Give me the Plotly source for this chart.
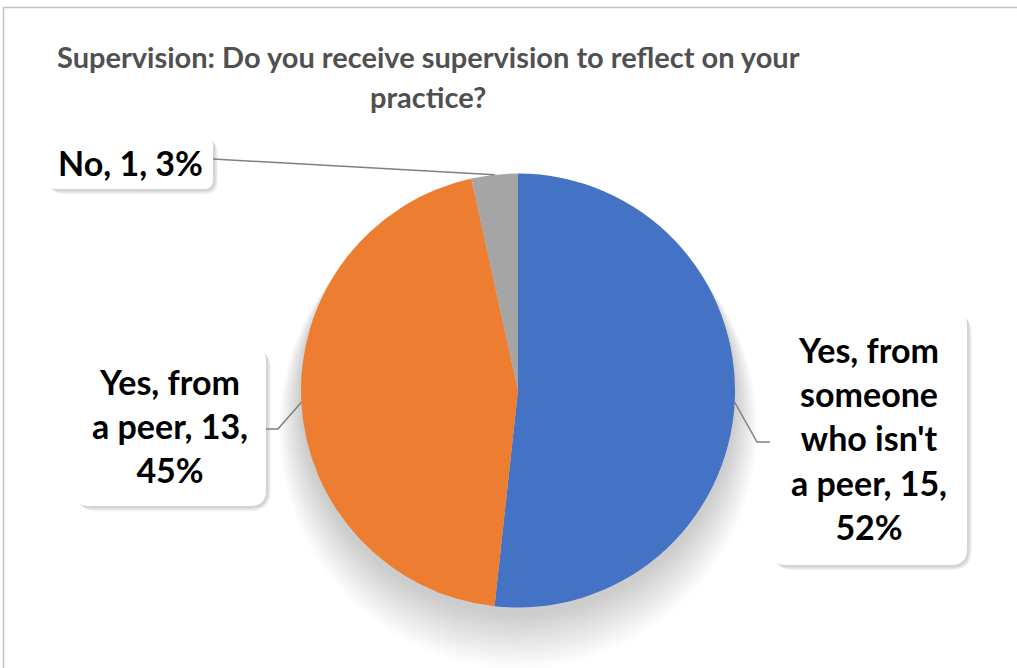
import math
import plotly.graph_objects as go

# ---- data ----
categories = ["Yes, from someone who isn't a peer", "Yes, from a peer", "No"]
counts = [15, 13, 1]
slice_colors = ["#4472C4", "#ED7D31", "#A5A5A5"]
title_lines = ["Supervision: Do you receive supervision to reflect on your", "practice?"]
# how many words go on each line of each data label
label_word_breaks = [[2, 1, 2, 3, 1], [2, 3, 1], [3]]

# ---- geometry (pixels) ----
W, H = 1017, 668
CX, CY, R = 518, 390.5, 217
FONT = "Lato"


def px(x):
    return x / W


def py(y):
    return 1 - y / H


def rounded_rect(x0, y0, x1, y1, r):
    pts = [
        f"M {px(x0 + r)},{py(y0)}",
        f"L {px(x1 - r)},{py(y0)}",
        f"Q {px(x1)},{py(y0)} {px(x1)},{py(y0 + r)}",
        f"L {px(x1)},{py(y1 - r)}",
        f"Q {px(x1)},{py(y1)} {px(x1 - r)},{py(y1)}",
        f"L {px(x0 + r)},{py(y1)}",
        f"Q {px(x0)},{py(y1)} {px(x0)},{py(y1 - r)}",
        f"L {px(x0)},{py(y0 + r)}",
        f"Q {px(x0)},{py(y0)} {px(x0 + r)},{py(y0)}",
        "Z",
    ]
    return " ".join(pts)


total = sum(counts)
fig = go.Figure()

fig.add_trace(go.Pie(
    labels=categories,
    values=counts,
    marker=dict(colors=slice_colors, line=dict(width=0)),
    sort=False,
    direction="clockwise",
    rotation=0,
    textinfo="none",
    hoverinfo="label+value+percent",
    showlegend=False,
    domain=dict(x=[px(CX - R), px(CX + R)], y=[py(CY + R), py(CY - R)]),
))

shapes = []
# chart frame
shapes.append(dict(type="rect", xref="paper", yref="paper",
                   x0=px(3.5), y0=py(7.5), x1=px(1030), y1=py(690),
                   line=dict(color="#C4C4C4", width=1.5), fillcolor="rgba(0,0,0,0)", layer="below"))

# soft shadow around / under the pie
for k in range(1, 26):
    rr = R + k * 0.9
    oy = 6 + k * 1.3
    shapes.append(dict(type="circle", xref="paper", yref="paper",
                       x0=px(CX - rr), x1=px(CX + rr), y0=py(CY + oy + rr), y1=py(CY + oy - rr),
                       line=dict(width=0), fillcolor="rgba(0,0,0,0.0065)", layer="below"))

# label boxes: (x0, y0, x1, y1, corner radius)
boxes = [
    (770, 310, 967, 565, 16),
    (73, 345, 266, 506, 16),
    (47, 136, 213, 189, 9),
]

# mid-angle anchor of each slice on the rim
cum = 0
anchors = []
for v in counts:
    mid = (cum + v / 2) / total * 2 * math.pi
    anchors.append((CX + R * math.sin(mid), CY - R * math.cos(mid)))
    cum += v

for (x0, y0, x1, y1, cr) in boxes:
    for s in range(1, 6):
        shapes.append(dict(type="path", xref="paper", yref="paper",
                           path=rounded_rect(x0 + 1 + s * 0.6, y0 + 1 + s * 0.6, x1 + 1 + s * 0.8, y1 + 1 + s * 0.9, cr + s),
                           line=dict(width=0), fillcolor="rgba(0,0,0,0.035)", layer="below"))
    shapes.append(dict(type="path", xref="paper", yref="paper",
                       path=rounded_rect(x0, y0, x1, y1, cr),
                       line=dict(width=0), fillcolor="white", layer="below"))

# leader lines
line_style = dict(color="#7F7F7F", width=1.5)
ax, ay = anchors[0]
shapes.append(dict(type="path", xref="paper", yref="paper", layer="above",
                   path=f"M {px(770)},{py(442)} L {px(757)},{py(442)} L {px(ax)},{py(ay)}",
                   line=line_style))
ax, ay = anchors[1]
shapes.append(dict(type="path", xref="paper", yref="paper", layer="above",
                   path=f"M {px(266)},{py(429)} L {px(278)},{py(429)} L {px(ax)},{py(ay)}",
                   line=line_style))
ax, ay = anchors[2]
shapes.append(dict(type="path", xref="paper", yref="paper", layer="above",
                   path=f"M {px(213)},{py(159)} L {px(ax)},{py(ay)}",
                   line=line_style))

annotations = []
# title
for txt, yy in zip(title_lines, [56, 96]):
    annotations.append(dict(text=f"<b>{txt}</b>", x=px(428), y=py(yy), xref="paper", yref="paper",
                            xanchor="center", yanchor="middle", showarrow=False,
                            font=dict(family=FONT, size=29, color="#505050")))

# data labels
for i, (name, v) in enumerate(zip(categories, counts)):
    pct = round(100 * v / total)
    words = f"{name}, {v}, {pct}%".split(" ")
    lines, pos = [], 0
    for n in label_word_breaks[i]:
        lines.append(" ".join(words[pos:pos + n]))
        pos += n
    x0, y0, x1, y1, _ = boxes[i]
    annotations.append(dict(text="<b>" + "<br>".join(lines) + "</b>",
                            x=px((x0 + x1) / 2), y=py((y0 + y1) / 2),
                            xref="paper", yref="paper", xanchor="center", yanchor="middle",
                            showarrow=False, align="center",
                            font=dict(family=FONT, size=34, color="#000000")))

fig.update_layout(
    width=W, height=H,
    margin=dict(l=0, r=0, t=0, b=0),
    paper_bgcolor="white", plot_bgcolor="white",
    shapes=shapes, annotations=annotations,
    showlegend=False,
)

fig.write_html("out.html")
